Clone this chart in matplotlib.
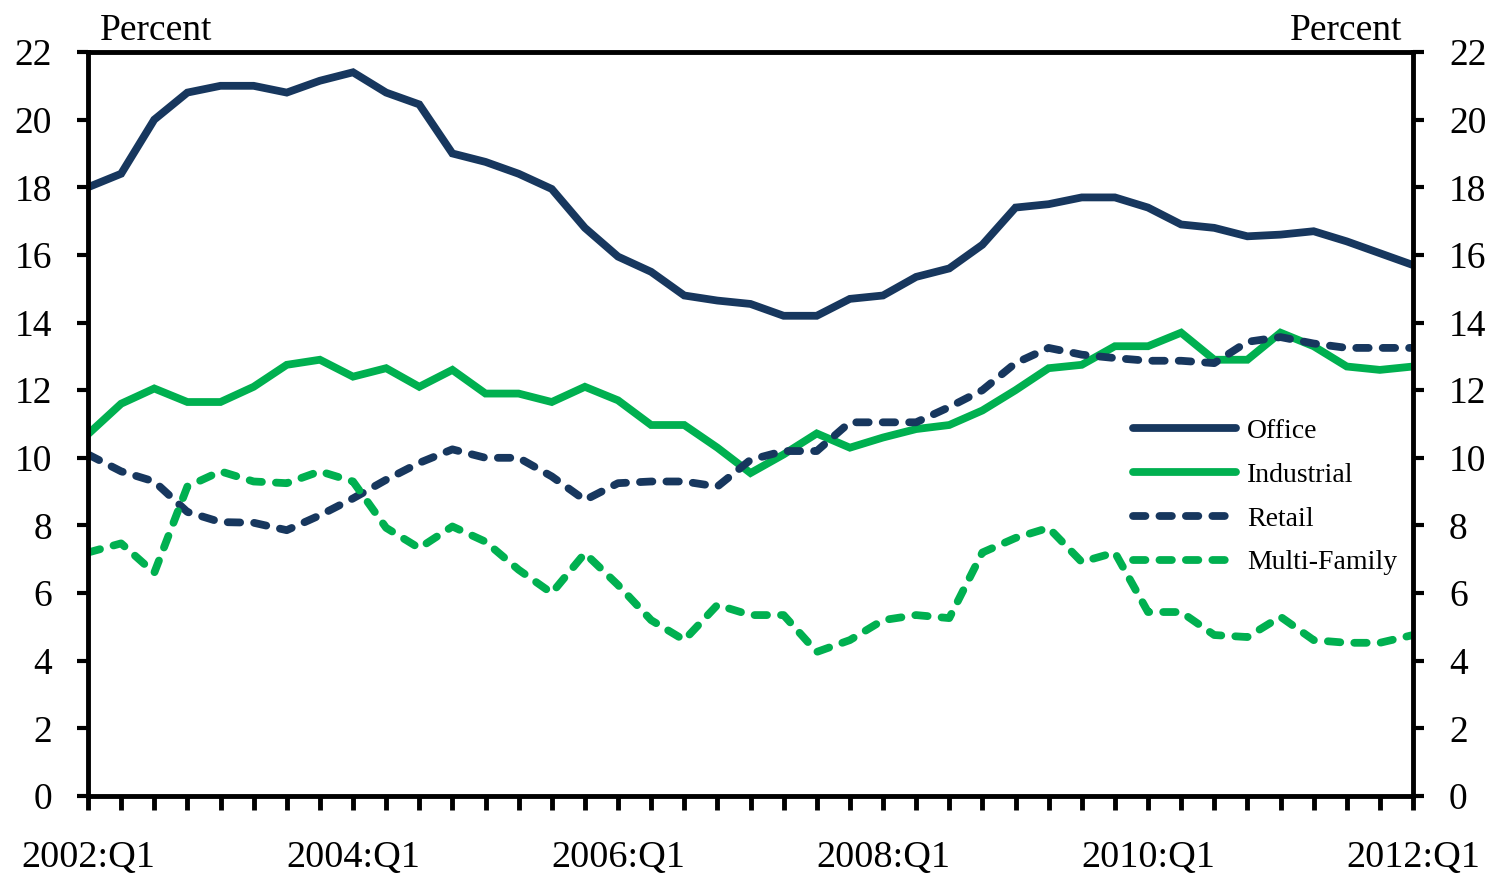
import numpy as np
import matplotlib.pyplot as plt
from matplotlib.ticker import FixedLocator

plt.rcParams['font.family'] = ['Liberation Serif', 'DejaVu Serif']

# quarterly data, 2002:Q1 .. 2012:Q1
office = [18.0, 18.4, 20.0, 20.8, 21.0, 21.0, 20.8, 21.15, 21.4, 20.8,
          20.45, 19.0, 18.75, 18.4, 17.95, 16.8, 15.95, 15.5, 14.8, 14.65,
          14.55, 14.2, 14.2, 14.7, 14.8, 15.35, 15.6, 16.3, 17.4, 17.5,
          17.7, 17.7, 17.4, 16.9, 16.8, 16.55, 16.6, 16.7, 16.4, 16.05, 15.7]
industrial = [10.7, 11.6, 12.05, 11.65, 11.65, 12.1, 12.75, 12.9, 12.4, 12.65,
              12.1, 12.6, 11.9, 11.9, 11.65, 12.1, 11.7, 10.97, 10.97, 10.3,
              9.55, 10.1, 10.72, 10.3, 10.6, 10.85, 10.97, 11.4, 12.0, 12.65,
              12.75, 13.3, 13.3, 13.7, 12.9, 12.9, 13.7, 13.3, 12.7, 12.6, 12.7]
retail = [10.1, 9.6, 9.3, 8.4, 8.1, 8.08, 7.86, 8.3, 8.8, 9.35,
          9.85, 10.25, 10.0, 10.0, 9.45, 8.75, 9.25, 9.3, 9.3, 9.15,
          9.94, 10.2, 10.2, 11.05, 11.05, 11.05, 11.5, 12.0, 12.8, 13.25,
          13.05, 12.95, 12.87, 12.87, 12.8, 13.43, 13.57, 13.38, 13.25, 13.25, 13.25]
multifamily = [7.2, 7.47, 6.6, 9.15, 9.6, 9.3, 9.25, 9.6, 9.3, 7.93,
               7.33, 7.97, 7.52, 6.69, 6.0, 7.18, 6.24, 5.2, 4.61, 5.65,
               5.35, 5.35, 4.26, 4.61, 5.2, 5.35, 5.26, 7.2, 7.63, 7.93,
               6.92, 7.2, 5.44, 5.44, 4.76, 4.7, 5.3, 4.61, 4.53, 4.53, 4.76]
years = [2002, 2004, 2006, 2008, 2010, 2012]
tick_labels = ['%d:Q1' % y for y in years]

navy = '#17375E'
green = '#00B050'
lw = 5.6
dash = (1.6, 1.8)

q = np.arange(len(office))

fig = plt.figure(figsize=(14.96, 8.74), dpi=100)
ax = fig.add_axes([88/1496, 78/874, (1413-88)/1496, (796-52)/874])

ax.plot(q, office, color=navy, lw=lw, solid_capstyle='round',
        solid_joinstyle='miter', label='Office')
ax.plot(q, industrial, color=green, lw=lw, solid_capstyle='round',
        solid_joinstyle='miter', label='Industrial')
ax.plot(q, retail, color=navy, lw=lw, dashes=dash,
        dash_capstyle='round', label='Retail')
ax.plot(q, multifamily, color=green, lw=lw, dashes=dash,
        dash_capstyle='round', label='Multi-Family')

ax.set_xlim(0, len(q) - 1)
ax.set_ylim(0, 22)

# x axis: every quarter a tick, labels every two years
ax.xaxis.set_major_locator(FixedLocator([(y - 2002) * 4 for y in years]))
ax.set_xticklabels(tick_labels)
ax.xaxis.set_minor_locator(FixedLocator(q))
ax.tick_params(axis='x', which='both', direction='out', length=10, width=3.5)
ax.tick_params(axis='x', which='major', pad=22, labelsize=27.5)

ax.set_yticks(np.arange(0, 23, 2))
ax.tick_params(axis='y', which='both', direction='out', length=8, width=3,
               left=True, right=True, labelleft=True, labelright=True,
               labelsize=27, pad=18)

for s in ax.spines.values():
    s.set_linewidth(3.5)

ax.text(0.009, 1.005, 'Percent', transform=ax.transAxes, fontsize=27,
        ha='left', va='bottom')
ax.text(0.992, 1.005, 'Percent', transform=ax.transAxes, fontsize=27,
        ha='right', va='bottom')

leg = fig.legend(loc='center left', bbox_to_anchor=(1133/1496, 1 - 497/874),
                 frameon=False, fontsize=20, handlelength=3.7,
                 handletextpad=0.4, labelspacing=0.66, borderpad=0,
                 borderaxespad=0)

fig.savefig('out.png', dpi=100)
